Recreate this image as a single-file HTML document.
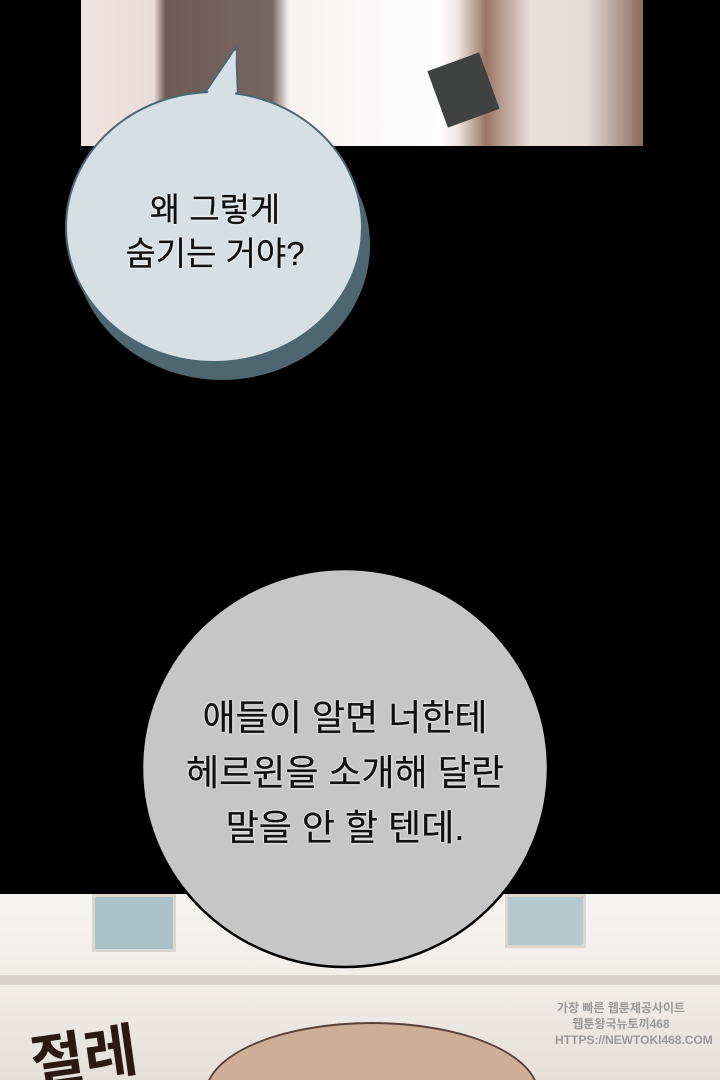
<!DOCTYPE html>
<html style="overflow:hidden;width:720px;height:1080px"><head><meta charset="utf-8"><style>
html,body{margin:0;padding:0}
body{width:720px;height:1080px;background:#000;position:relative;overflow:hidden;font-family:"Liberation Sans","Noto Sans CJK KR","NanumGothic",sans-serif}
.a{position:absolute}
.t{position:absolute;text-align:center;color:#111;-webkit-text-stroke:0.3px #111;text-shadow:0 0 2px #fff,0 0 2px #fff}
</style></head><body>
<div class="a" style="left:81px;top:0;width:562px;height:146px;background:linear-gradient(90deg,#efe3e2 0%,#eadcdb 13%,#6f5a55 15%,#7a6660 34%,#f7f3f3 37%,#fdfdfd 64%,#efe6e3 67%,#9a7565 72%,#e9dedb 80%,#e7dcd9 90%,#8a6a5c 100%)"></div>
<div class="a" style="left:436px;top:60px;width:55px;height:60px;background:#3f4240;transform:rotate(-20deg)"></div>
<svg class="a" style="left:0;top:0" width="720" height="1080">
<ellipse cx="222" cy="245" rx="148" ry="135" fill="#4e6670"/>
<path d="M200 100 L236 47 L238 98 Z" fill="#d5dfe4" stroke="#4a6874" stroke-width="2"/>
<ellipse cx="214" cy="227" rx="148" ry="135" fill="#d5dfe4" stroke="#4a6874" stroke-width="2"/>
<path d="M203 100 L236 50 L235 98" fill="#d5dfe4"/>
</svg>
<div class="t" style="left:80px;width:270px;top:188px;font-size:33px;line-height:44px">왜 그렇게<br>숨기는 거야?</div>
<div class="a" style="left:0;top:894px;width:720px;height:186px;overflow:hidden;background:linear-gradient(180deg,#f6f4f2 0%,#f0ece8 50%,#e6dfd8 100%)">
<div class="a" style="left:92px;top:0;width:78px;height:52px;background:#a9c3c8;border:3px solid #ddd6cf"></div>
<div class="a" style="left:505px;top:0;width:75px;height:48px;background:#b3c9cd;border:3px solid #ddd6cf"></div>
<div class="a" style="left:0;top:81px;width:720px;height:10px;background:#d9d3cc"></div>
<div class="a" style="left:205px;top:128px;width:330px;height:140px;border-radius:50%;background:#cfae97;border:2px solid #5a4038"></div>
<div class="a" style="left:30px;top:116px;font-size:58px;font-weight:bold;color:#2a1a12;transform:rotate(-8deg)">절레</div>
<div class="a" style="left:555px;top:106px;width:132px;text-align:center;font-size:12px;line-height:16px;color:#999;font-weight:bold">가장 빠른 웹툰제공사이트<br>웹툰왕국뉴토끼468<br>HTTPS://NEWTOKI468.COM</div>
</div>
<svg class="a" style="left:0;top:0" width="720" height="1080">
<ellipse cx="345" cy="768" rx="203" ry="199" fill="#c6c6c6" stroke="#000" stroke-width="2.5"/>
</svg>
<div class="t" style="left:145px;width:400px;top:690px;font-size:36px;line-height:55px">애들이 알면 너한테<br>헤르윈을 소개해 달란<br>말을 안 할 텐데.</div>
</body></html>
